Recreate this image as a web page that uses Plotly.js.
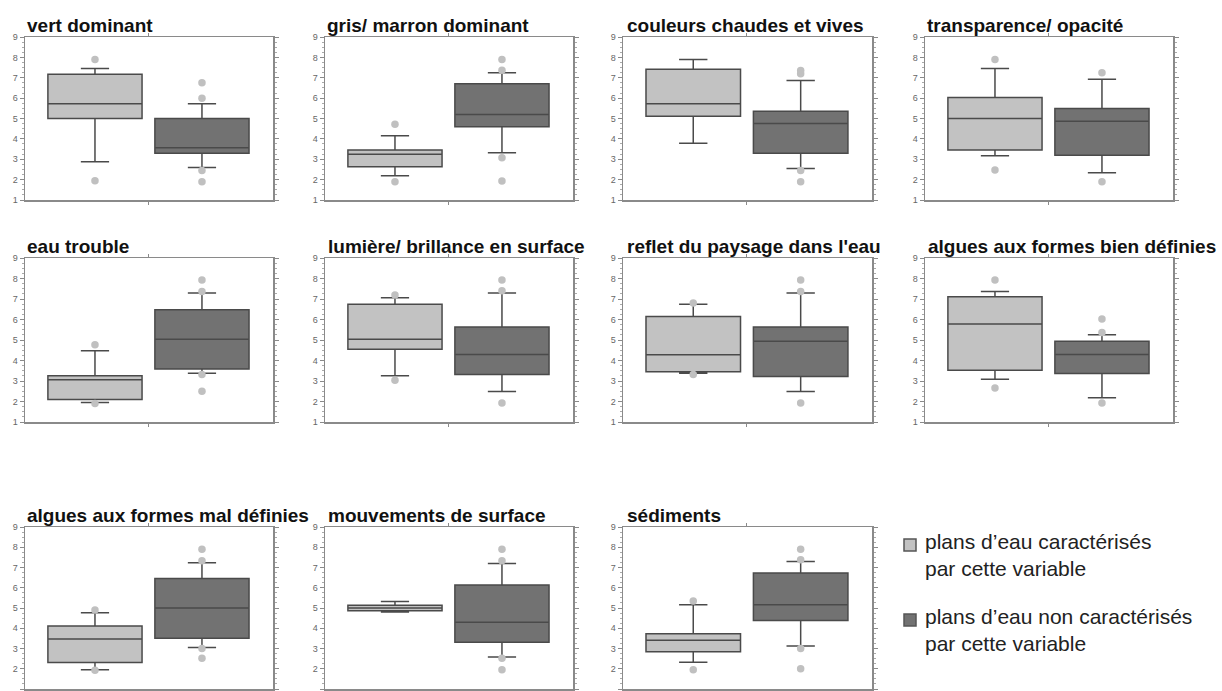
<!DOCTYPE html>
<html><head><meta charset="utf-8">
<script src="https://cdn.plot.ly/plotly-3.0.1.min.js"></script>
<style>body{margin:0;background:#fff}#c{width:1222px;height:691px}</style>
</head><body><div id="c"></div>
<script>
const titles = ["vert dominant","gris/ marron dominant","couleurs chaudes et vives","transparence/ opacité",
  "eau trouble","lumière/ brillance en surface","reflet du paysage dans l'eau","algues aux formes bien définies",
  "algues aux formes mal définies","mouvements de surface","sédiments"];
// group A: plans d'eau caractérisés par cette variable
const q1A  = [5.0, 2.63, 5.11, 3.45, 2.1, 4.55, 3.45, 3.53, 2.31, 4.87, 2.84];
const medA = [5.73, 3.25, 5.72, 5.0, 3.06, 5.04, 4.28, 5.78, 3.47, 5.0, 3.41];
const q3A  = [7.17, 3.45, 7.42, 6.03, 3.25, 6.75, 6.15, 7.11, 4.11, 5.14, 3.73];
const loA  = [2.88, 2.19, 3.78, 3.17, 1.95, 3.25, 3.38, 3.09, 1.95, 4.8, 2.32];
const hiA  = [7.45, 4.15, 7.9, 7.45, 4.47, 7.06, 6.74, 7.37, 4.77, 5.32, 5.16];
const outA = [[7.9,1.95],[4.72,1.9],[],[7.9,2.47],[4.77,1.9],[7.2,3.04],[6.8,3.32],[7.93,2.66],[4.9,1.92],[],[5.35,1.95]];
// group B: plans d'eau non caractérisés par cette variable
const q1B  = [3.29, 4.59, 3.29, 3.2, 3.58, 3.32, 3.22, 3.36, 3.51, 3.31, 4.38];
const medB = [3.56, 5.2, 4.76, 4.87, 5.04, 4.29, 4.94, 4.29, 5.0, 4.3, 5.16];
const q3B  = [5.0, 6.71, 5.36, 5.49, 6.48, 5.64, 5.64, 4.94, 6.46, 6.13, 6.73];
const loB  = [2.6, 3.32, 2.55, 2.34, 3.38, 2.49, 2.49, 2.18, 3.05, 2.58, 3.12];
const hiB  = [5.72, 7.24, 6.86, 6.93, 7.29, 7.29, 7.29, 5.25, 7.23, 7.2, 7.3];
const outB = [[6.75,6.0,2.45,1.9],[7.9,7.37,3.07,1.93],[7.35,7.2,2.45,1.9],[7.24,1.9],[7.93,7.37,3.32,2.5],
  [7.93,7.4,1.93],[7.93,7.37,1.93],[6.02,5.37,1.93],[7.9,7.33,3.0,2.52],[7.9,7.33,2.52,1.95],[7.9,7.38,3.0,2.0]];
const legendLabels = ["plans d’eau caractérisés<br>par cette variable","plans d’eau non caractérisés<br>par cette variable"];

const W = 1222, H = 691;
const colPx = [[25,273],[325,573],[623,872],[925,1173]];
const rowPx = [[37,200],[258,422],[527,689]];
const titleX = [25,325,625,925, 25,326,625,926, 25,326,625];
const fillA = '#c2c2c2', fillB = '#727272', lineC = '#4a4a4a', outC = '#c0c0c0';

const data = [];
const layout = {width:W, height:H, margin:{l:0,r:0,t:0,b:0}, showlegend:false,
  paper_bgcolor:'#fff', plot_bgcolor:'#fff', annotations:[], shapes:[],
  font:{family:'"Liberation Sans", Arial, sans-serif'}};

titles.forEach((t,i)=>{
  const r = Math.floor(i/4), c = i%4;
  const sfx = i===0 ? '' : String(i+1);
  const xa = 'x'+sfx, ya = 'y'+sfx;
  const xd = [colPx[c][0]/W, colPx[c][1]/W];
  const yd = [1-rowPx[r][1]/H, 1-rowPx[r][0]/H];
  layout['xaxis'+sfx] = {domain:xd, anchor:ya, range:[-0.654,1.664], showgrid:false, zeroline:false,
    showline:true, linecolor:'#8a8a8a', linewidth:1.5, mirror:'allticks', ticks:'outside', ticklen:3,
    tickcolor:'#8a8a8a', tickvals:[0.5], ticktext:[''], fixedrange:true};
  layout['yaxis'+sfx] = {domain:yd, anchor:xa, range:[1,9], dtick:1, showgrid:false, zeroline:false,
    showline:true, linecolor:'#8a8a8a', linewidth:1.5, mirror:'allticks', ticks:'outside', ticklen:4,
    tickcolor:'#8a8a8a', tickfont:{size:9, color:'#666'},
    minor:{ticks:'outside', ticklen:2, dtick:0.25, tickcolor:'#aaa'}, fixedrange:true};
  [[0,q1A,medA,q3A,loA,hiA,fillA],[1,q1B,medB,q3B,loB,hiB,fillB]].forEach(g=>{
    data.push({type:'box', x:[g[0]], q1:[g[1][i]], median:[g[2][i]], q3:[g[3][i]],
      lowerfence:[g[4][i]], upperfence:[g[5][i]], width:0.88, whiskerwidth:0.3,
      fillcolor:g[6], line:{color:lineC, width:1.5}, boxpoints:false, xaxis:xa, yaxis:ya, hoverinfo:'skip'});
  });
  data.push({type:'scatter', mode:'markers', x:outA[i].map(()=>0), y:outA[i], xaxis:xa, yaxis:ya,
    marker:{color:outC, size:7.5}, hoverinfo:'skip'});
  data.push({type:'scatter', mode:'markers', x:outB[i].map(()=>1), y:outB[i], xaxis:xa, yaxis:ya,
    marker:{color:outC, size:7.5}, hoverinfo:'skip'});
  layout.annotations.push({text:'<b>'+t+'</b>', xref:'paper', yref:'paper', x:titleX[i]/W, y:yd[1],
    xanchor:'left', yanchor:'bottom', showarrow:false, font:{size:19, color:'#111'}, yshift:-1});
});

// legend
const legY = [[542,567],[617,642]];
[fillA, fillB].forEach((f,k)=>{
  const cy = legY[k][0]+3;
  layout.shapes.push({type:'rect', xref:'paper', yref:'paper', x0:904/W, x1:916/W,
    y0:1-(cy+6)/H, y1:1-(cy-6)/H, fillcolor:f, line:{color:'#555', width:1.5}});
  layout.annotations.push({text:legendLabels[k], xref:'paper', yref:'paper', x:923/W,
    y:1-(legY[k][0]+legY[k][1])/2/H, xanchor:'left', yanchor:'middle', align:'left', showarrow:false,
    font:{size:21, color:'#222'}});
});

Plotly.newPlot('c', data, layout, {staticPlot:true});
</script></body></html>
